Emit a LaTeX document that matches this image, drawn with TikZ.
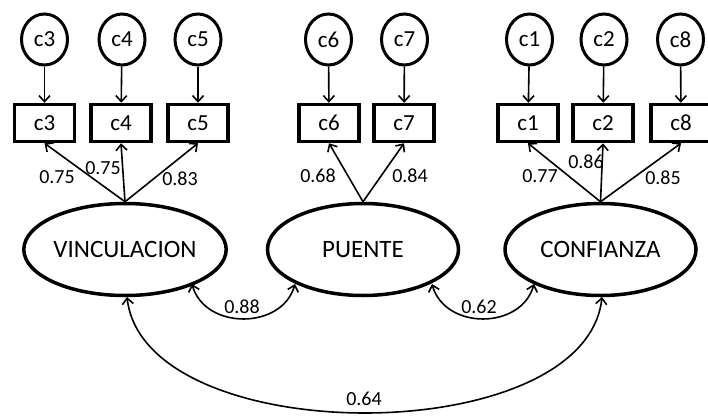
\documentclass[tikz,border=0pt]{standalone}
\usepackage{fontspec}
\setmainfont{Carlito}
\usetikzlibrary{shapes.geometric,arrows.meta}
\begin{document}
\begin{tikzpicture}[x=1pt,y=-1pt,
  err/.style={ellipse,draw,line width=3pt,minimum width=46pt,minimum height=51pt,inner sep=0pt,font=\fontsize{23}{26}\selectfont},
  obs/.style={rectangle,draw,line width=3.5pt,minimum width=60pt,minimum height=37pt,inner sep=0pt,font=\fontsize{23}{26}\selectfont},
  lat/.style={ellipse,draw,line width=3.5pt,minimum width=191pt,minimum height=92pt,inner sep=0pt,font=\fontsize{25}{28}\selectfont},
  lab/.style={inner sep=0pt,font=\fontsize{20}{23}\selectfont},
  arr/.style={line width=1.6pt,-{Straight Barb[length=6pt,width=11pt,line width=1.6pt]}},
  cov/.style={line width=1.6pt,{Straight Barb[length=6pt,width=11pt,line width=1.6pt]}-{Straight Barb[length=6pt,width=11pt,line width=1.6pt]}}
]
\useasboundingbox (0,0) rectangle (708,415);
% latent variables
\node[lat] (V) at (125,249.5) {VINCULACION};
\node[lat] (P) at (363,249.5) {PUENTE};
\node[lat] (C) at (600.5,249.5) {CONFIANZA};
% observed
\node[obs] (r3) at (44.5,123) {c3};
\node[obs] (r4) at (121,123) {c4};
\node[obs] (r5) at (198,123) {c5};
\node[obs] (r6) at (329,123) {c6};
\node[obs] (r7) at (404,123) {c7};
\node[obs] (r1) at (528,123) {c1};
\node[obs] (r2) at (603,123) {c2};
\node[obs] (r8) at (681,123) {c8};
% errors
\node[err] (e3) at (44.5,39.5) {c3};
\node[err] (e4) at (122,39.5) {c4};
\node[err] (e5) at (198,39.5) {c5};
\node[err] (e6) at (328.5,39.5) {c6};
\node[err] (e7) at (404.5,39.5) {c7};
\node[err] (e1) at (529.5,39.5) {c1};
\node[err] (e2) at (604,39.5) {c2};
\node[err] (e8) at (680.5,39.5) {c8};
% error arrows
\foreach \i in {3,4,5,6,7,1,2,8} \draw[arr] (e\i) -- (r\i);
% loadings
\draw[arr] (V.north) -- (r3.south);
\draw[arr] (V.north) -- (r4.south);
\draw[arr] (V.north) -- (r5.south);
\draw[arr] (P.north) -- (r6.south);
\draw[arr] (P.north) -- (r7.south);
\draw[arr] (C.north) -- (r1.south);
\draw[arr] (C.north) -- (r2.south);
\draw[arr] (C.north) -- (r8.south);
\node[lab] (l3) at (57,177) {0.75};
\node[lab] (l4) at (103,168) {0.75};
\node[lab] (l5) at (180,179) {0.83};
\node[lab] (l6) at (318,176) {0.68};
\node[lab] (l7) at (410,176) {0.84};
\node[lab] (l1) at (540,176) {0.77};
\node[lab] (l2) at (586,162) {0.86};
\node[lab] (l8) at (663,178) {0.85};
% covariances
\coordinate (vp1) at (192,284);
\coordinate (vp2) at (295,284);
\coordinate (pc1) at (432,284);
\coordinate (pc2) at (534,284);
\coordinate (vc1) at (127,297);
\coordinate (vc2) at (602,297);
\draw[cov] (vp1) .. controls (205,330) and (282,330) .. (vp2);
\draw[cov] (pc1) .. controls (445,330) and (521,330) .. (pc2);
\draw[cov] (vc1) .. controls (145,451) and (585,451) .. (vc2);
\node[lab] (k1) at (242,307) {0.88};
\node[lab] (k2) at (479,307) {0.62};
\node[lab] (k3) at (364,399) {0.64};
\end{tikzpicture}
\end{document}
